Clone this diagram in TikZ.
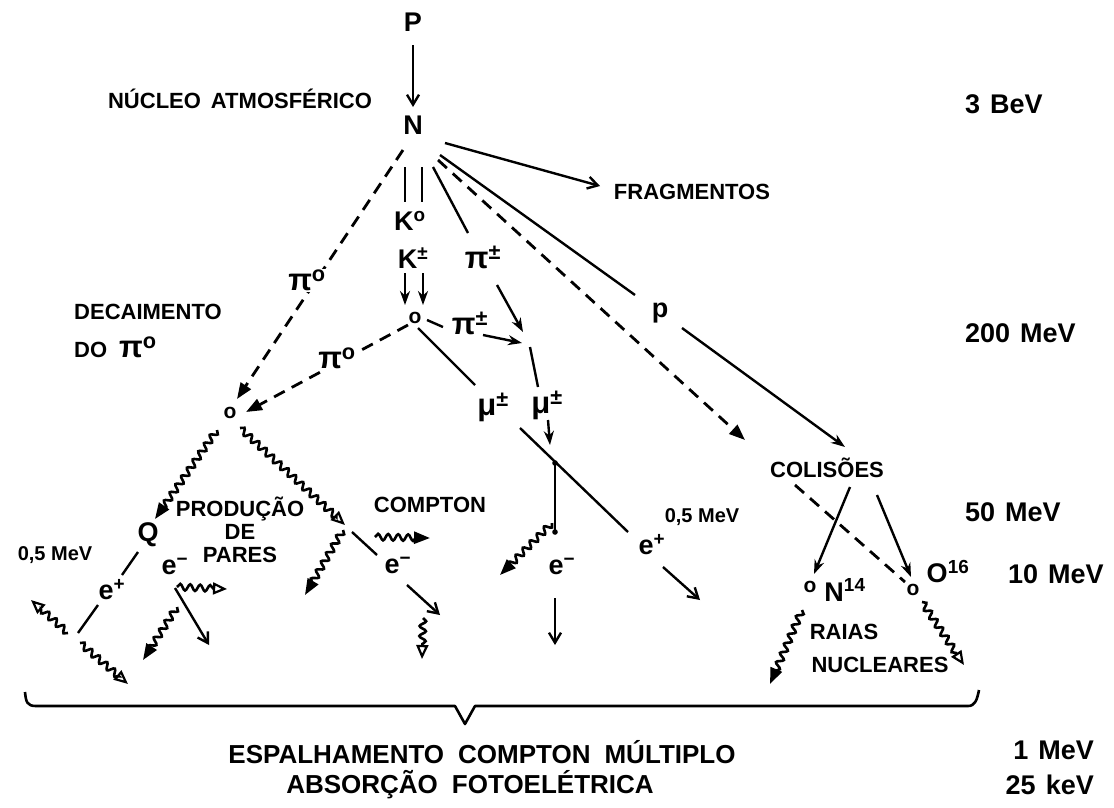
\documentclass[tikz,border=0pt]{standalone}
\usepackage{fontspec}
\setmainfont{Liberation Sans}
\usetikzlibrary{arrows.meta,decorations.pathmorphing}
\begin{document}
\begin{tikzpicture}[x=1pt,y=-1pt,
 lbl/.style={font=\fontsize{22}{23}\selectfont\bfseries, inner sep=1pt},
 en/.style={font=\fontsize{27}{30}\selectfont\bfseries, inner sep=0pt},
 sym/.style={font=\fontsize{27}{28}\selectfont\bfseries, inner sep=1pt},
 gr/.style={font=\fontsize{31}{32}\selectfont\bfseries, inner sep=1pt},
 vtx/.style={font=\fontsize{21}{22}\selectfont\bfseries, inner sep=0pt},
 ln/.style={line width=2.4pt},
 dsh/.style={line width=2.8pt, dash pattern=on 12pt off 8pt},
 wav/.style={line width=2.6pt, decorate, decoration={snake, amplitude=3.2pt, segment length=10pt, post length=10pt}},
 hf/.style={-{Triangle[length=16pt,width=12pt]}},
 ho/.style={-{Triangle[open,length=14pt,width=12pt,line width=2.2pt]}},
 hb/.style={-{Straight Barb[length=10pt,width=12pt]}},
 hs/.style={-{Stealth[length=14pt,width=10pt]}}]
\fill[white] (0,0) rectangle (1114,807);
\useasboundingbox (0,0) rectangle (1114,807);

% ---------- coordinates ----------
\coordinate (c01) at (413,45);  \coordinate (c02) at (413,107);
\coordinate (c03) at (445,143); \coordinate (c04) at (600,186);
\coordinate (c05) at (403,150); \coordinate (c06) at (237,399);
\coordinate (c07) at (405,167); \coordinate (c08) at (405,202);
\coordinate (c09) at (422,167); \coordinate (c10) at (422,202);
\coordinate (c11) at (405,273); \coordinate (c12) at (405,305);
\coordinate (c13) at (423,273); \coordinate (c14) at (423,305);
\coordinate (c15) at (433,167); \coordinate (c16) at (468,233);
\coordinate (c17) at (497,285); \coordinate (c18) at (523,332);
\coordinate (c19) at (427,320); \coordinate (c20) at (443,327);
\coordinate (c21) at (483,335); \coordinate (c22) at (522,343);
\coordinate (c23) at (408,325); \coordinate (c24) at (246,412);
\coordinate (c25) at (418,328); \coordinate (c26) at (475,385);
\coordinate (c27) at (530,347); \coordinate (c28) at (538,387);
\coordinate (c29) at (548,420); \coordinate (c30) at (550,445);
\coordinate (c31) at (520,428); \coordinate (c32) at (628,532);
\coordinate (c33) at (555,463); \coordinate (c34) at (555,532);
\coordinate (c35) at (663,567); \coordinate (c36) at (700,600);
\coordinate (c37) at (555,598); \coordinate (c38) at (555,645);
\coordinate (c39) at (552,523); \coordinate (c40) at (500,575);
\coordinate (c41) at (438,160); \coordinate (c42) at (745,440);
\coordinate (c43) at (440,155); \coordinate (c44) at (635,295);
\coordinate (c45) at (682,328); \coordinate (c46) at (845,447);
\coordinate (c47) at (850,487); \coordinate (c48) at (814,574);
\coordinate (c49) at (877,495); \coordinate (c50) at (911,577);
\coordinate (c51) at (795,485); \coordinate (c52) at (905,582);
\coordinate (c53) at (802,610); \coordinate (c54) at (770,684);
\coordinate (c55) at (922,602); \coordinate (c56) at (964,665);
\coordinate (c57) at (240,428); \coordinate (c58) at (345,525);
\coordinate (c59) at (217,430); \coordinate (c60) at (155,519);
\coordinate (c61) at (343,530); \coordinate (c62) at (305,595);
\coordinate (c63) at (352,532); \coordinate (c64) at (377,555);
\coordinate (c65) at (407,585); \coordinate (c66) at (440,615);
\coordinate (c67) at (423,618); \coordinate (c68) at (422,659);
\coordinate (c69) at (375,537); \coordinate (c70) at (430,538);
\coordinate (c71) at (138,552); \coordinate (c72) at (122,575);
\coordinate (c73) at (98,605);  \coordinate (c74) at (78,633);
\coordinate (c75) at (68,633);  \coordinate (c76) at (31,600);
\coordinate (c77) at (80,643);  \coordinate (c78) at (128,684);
\coordinate (c79) at (177,587); \coordinate (c80) at (227,589);
\coordinate (c81) at (175,588); \coordinate (c82) at (209,645);
\coordinate (c83) at (177,607); \coordinate (c84) at (143,660);

% ---------- connectors ----------
\draw[ln,hb] (c01) -- (c02);
\draw[ln,hb] (c03) -- (c04);
\draw[dsh,hf] (c05) -- (c06);
\draw[ln] (c07) -- (c08);
\draw[ln] (c09) -- (c10);
\draw[ln,hs] (c11) -- (c12);
\draw[ln,hs] (c13) -- (c14);
\draw[ln] (c15) -- (c16);
\draw[ln,hs] (c17) -- (c18);
\draw[ln] (c19) -- (c20);
\draw[ln,hs] (c21) -- (c22);
\draw[dsh,hf] (c23) -- (c24);
\draw[ln] (c25) -- (c26);
\draw[ln] (c27) -- (c28);
\draw[ln,hs] (c29) -- (c30);
\draw[ln] (c31) -- (c32);
\draw[ln] (c33) -- (c34);
\fill (c33) circle (2.8pt);
\fill (c34) circle (2.8pt);
\draw[ln,hb] (c35) -- (c36);
\draw[ln,hb] (c37) -- (c38);
\draw[wav,hf] (c39) -- (c40);
\draw[dsh,hf] (c41) -- (c42);
\draw[ln] (c43) -- (c44);
\draw[ln,hs] (c45) -- (c46);
\draw[ln,hs] (c47) -- (c48);
\draw[ln,hs] (c49) -- (c50);
\draw[dsh] (c51) -- (c52);
\draw[wav,hf] (c53) -- (c54);
\draw[wav,ho] (c55) -- (c56);
\draw[wav,ho] (c57) -- (c58);
\draw[wav,hf] (c59) -- (c60);
\draw[wav,hf] (c61) -- (c62);
\draw[ln] (c63) -- (c64);
\draw[ln,hb] (c65) -- (c66);
\draw[wav,ho] (c67) -- (c68);
\draw[wav,hf] (c69) -- (c70);
\draw[ln] (c71) -- (c72);
\draw[ln] (c73) -- (c74);
\draw[wav,ho] (c75) -- (c76);
\draw[wav,ho] (c77) -- (c78);
\draw[wav,ho] (c79) -- (c80);
\draw[ln,hb] (c81) -- (c82);
\draw[wav,hf] (c83) -- (c84);

% ---------- brace ----------
\coordinate (bl) at (25,692);
\coordinate (btip) at (465,724);
\coordinate (br) at (979,690);
\draw[line width=2.6pt, line join=round] (bl) .. controls (26,702) and (27,706) .. (36,706)
  -- (455,706) -- (btip) -- (475,706) -- (968,706) .. controls (975,706) and (977,700) .. (br);

% ---------- texts ----------
\node[sym] (P) at (413,22) {P};
\node[sym] (N) at (413,125) {N};
\node[lbl] (nucleo) at (240,99) {NÚCLEO\hspace{10pt}ATMOSFÉRICO};
\node[en,anchor=west] (e3) at (965,104) {3\hspace{10pt}BeV};
\node[en,anchor=west] (e200) at (965,333) {200\hspace{10pt}MeV};
\node[en,anchor=west] (e50) at (965,512) {50\hspace{10pt}MeV};
\node[en,anchor=west] (e10) at (1008,574) {10\hspace{10pt}MeV};
\node[en,anchor=east] (e1) at (1094,750) {1\hspace{10pt}MeV};
\node[en,anchor=east] (e25) at (1094,785) {25\hspace{10pt}keV};
\node[lbl] (frag) at (692,192) {FRAGMENTOS};
\node[gr,fill=white] (pi0a) at (307,280) {π\textsuperscript{o}};
\node[sym] (K0) at (410,221) {K\textsuperscript{o}};
\node[sym] (Kpm) at (413,258) {K\textsuperscript{±}};
\node[vtx] (vK) at (415,318) {o};
\node[gr] (pipmA) at (483,257) {π\textsuperscript{±}};
\node[gr] (pipmB) at (470,323) {π\textsuperscript{±}};
\node[gr,fill=white] (pi0b) at (337,358) {π\textsuperscript{o}};
\node[sym] (pp) at (660,313) {p};
\node[gr] (mu1) at (493,407) {μ\textsuperscript{±}};
\node[gr] (mu2) at (547,405) {μ\textsuperscript{±}};
\node[lbl,anchor=west] (dec1) at (73,312) {DECAIMENTO};
\node[lbl,anchor=west] (dec2) at (73,347) {DO\hspace{12pt}{\fontsize{31}{32}\selectfont π\textsuperscript{o}}};
\node[vtx] (vL) at (230,413) {o};
\node[sym] (Q) at (148,535) {Q};
\node[lbl,align=center] (prod) at (240,530) {PRODUÇÃO\\DE\\PARES};
\node[lbl,font=\fontsize{20}{22}\selectfont\bfseries] (halfL) at (55,555) {0,5 MeV};
\node[sym] (epL) at (112,590) {e\textsuperscript{+}};
\node[sym] (emQ) at (175,566) {e\textsuperscript{−}};
\node[lbl] (compton) at (430,505) {COMPTON};
\node[sym] (emC) at (398,565) {e\textsuperscript{−}};
\node[sym] (epR) at (652,545) {e\textsuperscript{+}};
\node[lbl,font=\fontsize{20}{22}\selectfont\bfseries] (halfR) at (702,517) {0,5 MeV};
\node[sym] (emM) at (562,566) {e\textsuperscript{−}};
\node[lbl] (col) at (827,468) {COLISÕES};
\node[vtx] (vN) at (810,587) {o};
\node[sym] (N14) at (845,590) {N\textsuperscript{14}};
\node[vtx] (vO) at (913,590) {o};
\node[sym] (O16) at (948,572) {O\textsuperscript{16}};
\node[lbl] (raias) at (844,632) {RAIAS};
\node[lbl] (nucl) at (880,665) {NUCLEARES};
\node[lbl,font=\fontsize{26}{28}\selectfont\bfseries] (esp) at (482,752) {ESPALHAMENTO\hspace{14pt}COMPTON\hspace{14pt}MÚLTIPLO};
\node[lbl,font=\fontsize{26}{28}\selectfont\bfseries] (abs) at (470,785) {ABSORÇÃO\hspace{14pt}FOTOELÉTRICA};
\end{tikzpicture}
\end{document}
